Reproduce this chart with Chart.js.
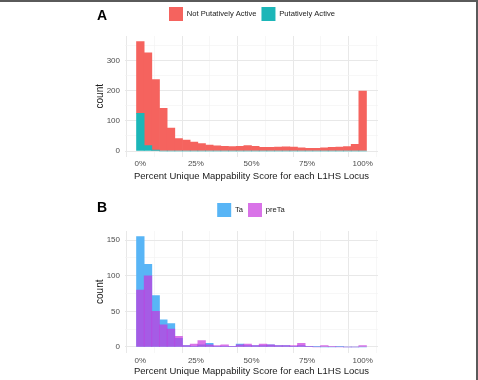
<!DOCTYPE html>
<html>
<head>
<meta charset="utf-8">
<script src="https://cdn.jsdelivr.net/npm/chart.js@4"></script>
<style>
  html, body { margin: 0; padding: 0; background: #fff; }
  #wrap { position: relative; width: 478px; height: 380px; background: #fff; overflow: hidden; }
  .panel { position: absolute; left: 0; width: 478px; height: 190px; }
  .tag { position: absolute; left: 97px; font: bold 14px "Liberation Sans", Arial, sans-serif; line-height: 14px; color: #000; }
  #frame { position: absolute; left: 0; top: 0; width: 478px; height: 380px; box-sizing: border-box;
           border-top: 2px solid #5a5a5a; border-right: 2px solid #5a5a5a; pointer-events: none; }
</style>
</head>
<body>
<div id="wrap">
  <div class="panel" style="top:0"><canvas id="chartA"></canvas></div>
  <div class="panel" style="top:190px"><canvas id="chartB"></canvas></div>
  <div class="tag" style="top:8px">A</div>
  <div class="tag" style="top:200px">B</div>
  <div id="frame"></div>
</div>
<script>
// bin centres of the 30 histogram bins (percent)
const binCenters = [0, 3.45, 6.9, 10.34, 13.79, 17.24, 20.69, 24.14, 27.59, 31.03,
  34.48, 37.93, 41.38, 44.83, 48.28, 51.72, 55.17, 58.62, 62.07, 65.52,
  68.97, 72.41, 75.86, 79.31, 82.76, 86.21, 89.66, 93.1, 96.55, 100];

// Panel A (stacked)
const activeCounts = [125, 18, 3, 0, 0, 0, 0, 0, 0, 0, 0, 0, 0, 0, 0,
  0, 0, 0, 0, 0, 0, 0, 0, 0, 0, 0, 0, 0, 0, 0];
const notActiveCounts = [239, 308, 234, 142, 76, 41, 36, 30, 25, 20, 17, 16, 15, 16, 18,
  16, 12, 12, 13, 14, 13, 11, 9, 9, 11, 12, 13, 15, 22, 199];

// Panel B (overlaid)
const taCounts = [155, 116, 72, 38, 33, 12, 2, 1, 3, 5, 1, 1, 1, 4, 2,
  2, 2, 3, 2, 2, 1, 2, 1, 1, 0, 0, 1, 0, 0, 0];
const preTaCounts = [80, 100, 50, 31, 25, 15, 2, 4, 9, 3, 2, 3, 1, 3, 4,
  2, 4, 3, 2, 2, 2, 5, 1, 0, 2, 1, 0, 0, 0, 2];

// tick positions (major + minor grid lines)
const xTicks = [0, 12.5, 25, 37.5, 50, 62.5, 75, 87.5, 100];
const yTicksA = [0, 50, 100, 150, 200, 250, 300, 350];
const yTicksB = [0, 25, 50, 75, 100, 125, 150];

const xTitle = 'Percent Unique Mappability Score for each L1HS Locus';

Chart.defaults.font.family = '"Liberation Sans", Arial, Helvetica, sans-serif';
Chart.defaults.color = '#4d4d4d';

// legend verschieben (Mitte + Oberkante der Kästchen)
const legendPos = {
  id: 'legendPos',
  afterLayout(chart, args, opts) {
    const lg = chart.legend;
    if (!lg || opts.cx == null) return;
    const dx = opts.cx - (lg.left + lg.right) / 2;
    lg.left += dx;
    lg.right += dx;
    const dy = (opts.boxTop - lg.options.labels.padding) - lg.top;
    lg.top += dy;
    lg.bottom += dy;
  }
};

function toPoints(values) {
  return values.map((v, i) => ({ x: binCenters[i], y: v }));
}

function isMajor(value, step) {
  const r = Math.abs(value % step);
  return r < 1e-6 || Math.abs(r - step) < 1e-6;
}

function gridColor(step) {
  return ctx => (ctx.tick && isMajor(ctx.tick.value, step)) ? '#e8e8e8' : '#f4f4f4';
}

function gridWidth(step) {
  return ctx => (ctx.tick && isMajor(ctx.tick.value, step)) ? 1 : 0.7;
}

function histogramChart(canvasId, datasets, cfg) {
  return new Chart(document.getElementById(canvasId), {
    type: 'bar',
    data: { datasets: datasets },
    options: {
      animation: false,
      responsive: true,
      maintainAspectRatio: false,
      layout: { padding: cfg.padding },
      datasets: { bar: { barPercentage: 1, categoryPercentage: 1, borderWidth: 0 } },
      scales: {
        x: {
          type: 'linear',
          min: -6.9,
          max: 106.9,
          offset: false,
          stacked: cfg.stacked,
          grid: { color: gridColor(25), lineWidth: gridWidth(25), drawTicks: false },
          border: { display: false },
          afterBuildTicks: s => { s.ticks = xTicks.map(v => ({ value: v })); },
          ticks: {
            autoSkip: false, maxRotation: 0,
            padding: cfg.xTickPad, font: { size: 8 },
            callback: v => isMajor(v, 25) ? Math.round(v) + '%' : ''
          },
          title: { display: true, text: xTitle, color: '#1a1a1a', font: { size: 9.5 },
                   padding: { top: 0, bottom: cfg.titlePad } },
          afterFit: s => { s.height = cfg.xHeight; }
        },
        y: {
          min: cfg.yMin,
          max: cfg.yMax,
          stacked: cfg.stacked,
          grid: { color: gridColor(cfg.yLabelStep), lineWidth: gridWidth(cfg.yLabelStep), drawTicks: false },
          border: { display: false },
          afterBuildTicks: s => { s.ticks = cfg.yTicks.map(v => ({ value: v })); },
          ticks: {
            autoSkip: false,
            padding: 5, font: { size: 8 },
            callback: v => isMajor(v, cfg.yLabelStep) ? v : ''
          },
          title: { display: true, text: 'count', color: '#1a1a1a', font: { size: 10 },
                   padding: { top: 0, bottom: 0 } },
          afterFit: s => { s.width = 31; }
        }
      },
      plugins: {
        legend: {
          labels: {
            boxWidth: 14, boxHeight: 14, padding: 5, color: '#1a1a1a',
            font: { size: 7.6 }, sort: cfg.legendSort
          }
        },
        legendPos: { cx: cfg.legendCx, boxTop: cfg.legendTop },
        tooltip: { enabled: false }
      }
    },
    plugins: [legendPos]
  });
}

// Panel A: gestapelt, rot oben
histogramChart('chartA', [
  { label: 'Putatively Active', data: toPoints(activeCounts), backgroundColor: '#1cb6b8' },
  { label: 'Not Putatively Active', data: toPoints(notActiveCounts), backgroundColor: '#f5635e' }
], {
  stacked: true,
  yMin: -18.2, yMax: 382.2, yTicks: yTicksA, yLabelStep: 100,
  padding: { left: 94, right: 100, top: 7, bottom: 4 },
  xHeight: 29.5, xTickPad: 2, titlePad: 4,
  legendTop: 7, legendCx: 252,
  legendSort: (a, b) => b.datasetIndex - a.datasetIndex
});

// Panel B: überlagert, preTa halbtransparent oben
histogramChart('chartB', [
  { label: 'Ta', data: toPoints(taCounts), backgroundColor: '#58b5f6', grouped: false, order: 1 },
  { label: 'preTa', data: toPoints(preTaCounts), backgroundColor: 'rgba(200, 52, 222, 0.69)', grouped: false, order: 0 }
], {
  stacked: false,
  yMin: -7.75, yMax: 162.75, yTicks: yTicksB, yLabelStep: 50,
  padding: { left: 94, right: 100, top: 12, bottom: 2.6 },
  xHeight: 24.9, xTickPad: 3, titlePad: 0,
  legendTop: 13, legendCx: 251,
  legendSort: (a, b) => a.datasetIndex - b.datasetIndex
});
</script>
</body>
</html>
